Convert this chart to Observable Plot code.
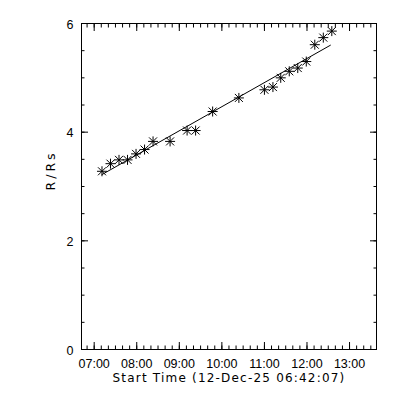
<!DOCTYPE html>
<html>
<head>
<meta charset="utf-8">
<script src="https://cdn.jsdelivr.net/npm/d3@7"></script>
<script src="https://cdn.jsdelivr.net/npm/@observablehq/plot@0.6"></script>
<style>
  html, body { margin: 0; padding: 0; background: #fff; }
  #chart { width: 400px; height: 400px; }
  #chart svg g[aria-label="text"] text { letter-spacing: 1.2px; }
</style>
</head>
<body>
<div id="chart"></div>
<script>
// Observed times (UT, 12-Dec-25) and heights (R/Rs)
const times = ["07:11","07:23","07:35","07:47","07:59","08:11","08:23","08:47","09:11","09:23","09:47",
               "10:24","11:00","11:12","11:23","11:35","11:47","11:59","12:11","12:23","12:35"];
const heights = [3.28,3.42,3.49,3.49,3.60,3.68,3.83,3.83,4.03,4.03,4.38,
                 4.63,4.78,4.83,5.00,5.12,5.18,5.30,5.61,5.74,5.86];
// Fit line end points
const fitTimes = ["07:11","12:33"];
const fitValues = [3.22,5.60];
// Axis settings
const xDomain = ["06:42:07","13:38:00"];
const yDomain = [0, 6];
const yMajor = [0, 2, 4, 6];
const yMinor = d3.range(0, 6.01, 0.5);
const xLabel = "Start Time (12-Dec-25 06:42:07)";
const yLabel = "R/Rs";

const day = "2025-12-12T";
const toDate = s => new Date(day + (s.length === 5 ? s + ":00" : s) + "Z");

const points = times.map((t, i) => ({t: toDate(t), h: heights[i]}));
const fit = fitTimes.map((t, i) => ({t: toDate(t), h: fitValues[i]}));

const asterisk = {
  draw(ctx) {
    const r = 5, d = 4;
    ctx.moveTo(-r, 0); ctx.lineTo(r, 0);
    ctx.moveTo(0, -r); ctx.lineTo(0, r);
    ctx.moveTo(-d, -d); ctx.lineTo(d, d);
    ctx.moveTo(-d, d); ctx.lineTo(d, -d);
  }
};

const xMajor = d3.utcHour.every(1);
const xMinor = d3.utcMinute.every(10);
const font = "Liberation Sans, DejaVu Sans, sans-serif";
const titleFont = "DejaVu Sans, sans-serif";

const chart = Plot.plot({
  width: 400,
  height: 400,
  marginLeft: 81,
  marginRight: 24,
  marginTop: 23,
  marginBottom: 51,
  style: {fontFamily: font, fontSize: "12px", background: "#fff", color: "#000"},
  x: {type: "utc", domain: xDomain.map(toDate)},
  y: {domain: yDomain},
  marks: [
    Plot.frame({stroke: "#000", strokeWidth: 1}),
    // bottom ticks (inward)
    Plot.axisX({anchor: "bottom", ticks: xMinor, tickSize: -3.5, tickFormat: () => "", label: null}),
    Plot.axisX({anchor: "bottom", ticks: xMajor, tickSize: -7, tickFormat: () => "", label: null}),
    Plot.axisX({anchor: "bottom", ticks: xMajor, tickSize: 0, tickPadding: 10, tickFormat: d3.utcFormat("%H:%M"), fontSize: 12.5, label: null}),
    // top ticks (inward)
    Plot.axisX({anchor: "top", ticks: xMinor, tickSize: -3.5, tickFormat: () => "", label: null}),
    Plot.axisX({anchor: "top", ticks: xMajor, tickSize: -7, tickFormat: () => "", label: null}),
    // left ticks
    Plot.axisY({anchor: "left", ticks: yMinor, tickSize: -3.5, tickFormat: () => "", label: null}),
    Plot.axisY({anchor: "left", ticks: yMajor, tickSize: -7, tickFormat: () => "", label: null}),
    Plot.axisY({anchor: "left", ticks: yMajor, tickSize: 0, tickPadding: 8, dy: 1, tickFormat: d3.format("d"), fontSize: 12.5, label: null}),
    // right ticks
    Plot.axisY({anchor: "right", ticks: yMinor, tickSize: -3.5, tickFormat: () => "", label: null}),
    Plot.axisY({anchor: "right", ticks: yMajor, tickSize: -7, tickFormat: () => "", label: null}),
    // axis titles
    Plot.text([xLabel], {frameAnchor: "bottom", dy: 32, fontSize: 12, fontFamily: titleFont, fill: "#000"}),
    Plot.text([yLabel], {frameAnchor: "left", rotate: -90, dx: -31, dy: 4, fontSize: 12.5, fontFamily: titleFont, fill: "#000"}),
    // fit line
    Plot.line(fit, {x: "t", y: "h", stroke: "#000", strokeWidth: 1}),
    // data points
    Plot.dot(points, {x: "t", y: "h", symbol: asterisk, fill: "none", stroke: "#000", strokeWidth: 1})
  ]
});
d3.select(chart).selectAll('g[aria-label="text"] text')
  .filter(function() { return this.textContent === yLabel; })
  .style("letter-spacing", "3px");
document.getElementById("chart").appendChild(chart);
</script>
</body>
</html>
